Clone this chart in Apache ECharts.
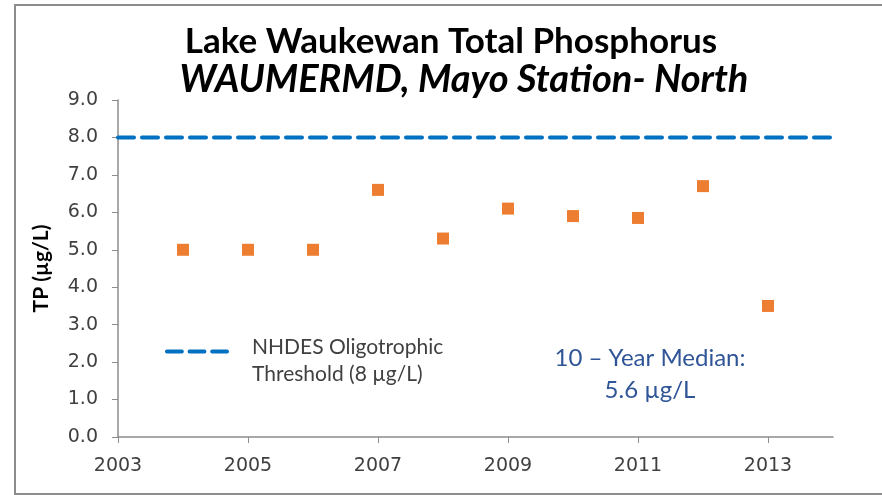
<!DOCTYPE html>
<html>
<head>
<meta charset="utf-8">
<script src="https://cdn.jsdelivr.net/npm/echarts@6/dist/echarts.min.js"></script>
<style>
  html, body { margin: 0; padding: 0; background: #fff; }
  #chart { width: 882px; height: 495px; }
</style>
</head>
<body>
<div id="chart"></div>
<script>
// yearly TP readings (ug/L)
var years = [2004, 2005, 2006, 2007, 2008, 2009, 2010, 2011, 2012, 2013];
var tpValues = [5.0, 5.0, 5.0, 6.6, 5.3, 6.1, 5.9, 5.85, 6.7, 3.5];
var thresholdValue = 8;
var xRange = [2003, 2014];
var xTickYears = [2003, 2005, 2007, 2009, 2011, 2013];
var thresholdName = 'NHDES Oligotrophic\nThreshold (8 µg/L)';
var medianLines = ['10 – Year Median:', '5.6 µg/L'];
var titleText = 'Lake Waukewan Total Phosphorus';
var subtitleText = 'WAUMERMD, Mayo Station- North';

var font = 'Lato, "Open Sans", sans-serif';
var tickFont = '"DejaVu Sans", sans-serif';
var chart = echarts.init(document.getElementById('chart'));

var option = {
  animation: false,
  textStyle: { fontFamily: font },
  grid: { left: 118, right: 49, top: 100, bottom: 58 },
  legend: {
    data: [thresholdName],
    left: 160,
    top: 310,
    icon: 'path://M0,0 h16 a2,2 0 0 1 0,4 h-16 a2,2 0 0 1 0,-4 z M24,0 h16 a2,2 0 0 1 0,4 h-16 a2,2 0 0 1 0,-4 z M48,0 h16 a2,2 0 0 1 0,4 h-16 a2,2 0 0 1 0,-4 z',
    itemWidth: 64,
    itemHeight: 5,
    itemGap: 20,
    // blank first line nudges the text so the dash sits by the first line
    formatter: function (name) {
      return '{s| }\n' + name.split('\n').map(function (l) { return '{t|' + l + '}'; }).join('\n');
    },
    textStyle: {
      fontFamily: font, fontSize: 21, color: '#404040', padding: [0, 0, 0, 18],
      rich: {
        s: { fontSize: 10, lineHeight: 19, height: 19 },
        t: { fontFamily: font, fontSize: 21, color: '#404040', lineHeight: 27 }
      }
    }
  },
  xAxis: {
    type: 'value',
    min: xRange[0],
    max: xRange[1],
    splitLine: { show: false },
    axisLine: { lineStyle: { color: '#8c8c8c', width: 1.5 } },
    axisTick: { customValues: xTickYears, length: 6, lineStyle: { color: '#8c8c8c' } },
    axisLabel: {
      customValues: xTickYears,
      fontFamily: tickFont, fontSize: 19, color: '#404040', margin: 20,
      formatter: function (v) { return String(v); }
    }
  },
  yAxis: {
    type: 'value',
    min: 0,
    max: 9,
    interval: 1,
    name: 'TP (µg/L)',
    nameLocation: 'middle',
    nameGap: 66,
    nameTextStyle: { fontFamily: font, fontSize: 21, fontWeight: 'bold', color: '#000' },
    splitLine: { show: false },
    axisLine: { show: true, lineStyle: { color: '#8c8c8c', width: 1.5 } },
    axisTick: { show: true, length: 6, lineStyle: { color: '#8c8c8c' } },
    axisLabel: {
      fontFamily: tickFont, fontSize: 19, color: '#404040', margin: 20,
      formatter: function (v) { return v.toFixed(1); }
    }
  },
  series: [
    {
      name: thresholdName,
      type: 'line',
      data: [[xRange[0], thresholdValue], [xRange[1], thresholdValue]],
      symbol: 'none',
      color: '#0070C0',
      lineStyle: { color: '#0070C0', width: 4, type: [16, 8], cap: 'round' },
      z: 2
    },
    {
      name: 'TP',
      type: 'scatter',
      data: years.map(function (y, i) { return [y, tpValues[i]]; }),
      symbol: 'rect',
      symbolSize: 12,
      itemStyle: { color: '#ED7D31', opacity: 1 },
      z: 3
    }
  ],
  graphic: [
    {
      type: 'rect',
      shape: { x: 15, y: 5, width: 900, height: 489 },
      style: { fill: 'none', stroke: '#8c8c8c', lineWidth: 2 },
      silent: true,
      z: -1
    },
    {
      type: 'text',
      x: 451,
      y: 42,
      style: {
        text: titleText, align: 'center', verticalAlign: 'middle',
        fontFamily: font, fontSize: 35, fontWeight: 'bold', fill: '#000'
      }
    },
    {
      type: 'text',
      x: 464,
      y: 80,
      style: {
        text: subtitleText, align: 'center', verticalAlign: 'middle',
        fontFamily: font, fontSize: 38, fontWeight: 'bold', fontStyle: 'italic', fill: '#000'
      }
    },
    {
      type: 'text',
      x: 650,
      y: 342,
      style: {
        text: medianLines.join('\n'),
        align: 'center',
        fontFamily: font,
        fontSize: 24,
        lineHeight: 32,
        fill: '#2F5597'
      }
    }
  ]
};

chart.setOption(option);
</script>
</body>
</html>
